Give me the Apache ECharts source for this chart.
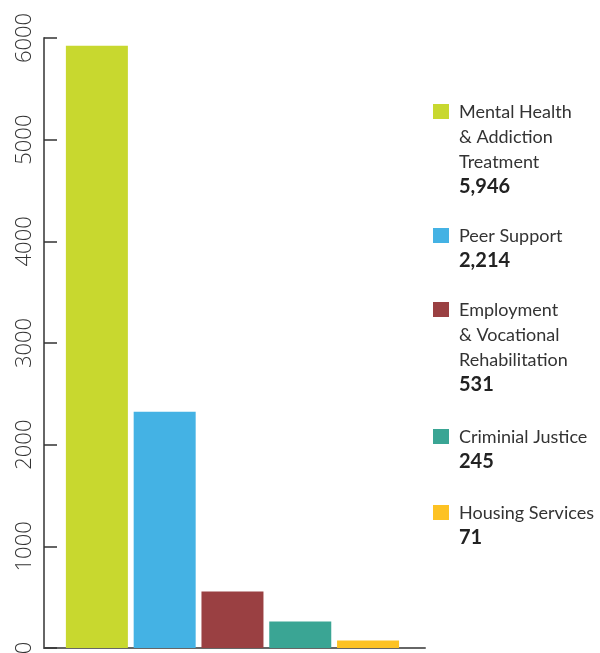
<!DOCTYPE html>
<html>
<head>
<meta charset="utf-8">
<script src="https://cdn.jsdelivr.net/npm/echarts@6/dist/echarts.min.js"></script>
<style>
  html, body { margin: 0; padding: 0; background: #fff; }
  #chart { width: 600px; height: 653px; }
</style>
</head>
<body>
<div id="chart"></div>
<script>
// programmes, in bar order
var categories = [
  "Mental Health\n& Addiction\nTreatment",
  "Peer Support",
  "Employment\n& Vocational\nRehabilitation",
  "Criminial Justice",
  "Housing Services"
];
// bar heights as drawn
var barValues = [5925, 2325, 556, 261, 74];
// totals printed in the legend
var totals = ["5,946", "2,214", "531", "245", "71"];
var colors = ["#c8d82f", "#44b2e4", "#9a4042", "#3aa594", "#fdc223"];
var yTicks = [0, 1000, 2000, 3000, 4000, 5000, 6000];

var myChart = echarts.init(document.getElementById("chart"));

// legend drawn by hand so the swatch sits at the first line
var legendTops = [112, 236, 310, 437, 513];
var lineH = 25;
var legendItems = [];
categories.forEach(function (name, i) {
  var lines = name.split("\n");
  var y0 = legendTops[i];
  legendItems.push({
    type: "rect",
    shape: { x: 433, y: y0 - 8, width: 16, height: 15 },
    style: { fill: colors[i] }
  });
  lines.forEach(function (t, j) {
    legendItems.push({
      type: "text",
      x: 459,
      y: y0 + j * lineH,
      style: {
        text: t,
        font: "18px Lato",
        fill: "#333",
        verticalAlign: "middle"
      }
    });
  });
  legendItems.push({
    type: "text",
    x: 459,
    y: y0 + lines.length * lineH,
    style: {
      text: totals[i],
      font: "bold 20px Lato",
      fill: "#222",
      verticalAlign: "middle"
    }
  });
});

var option = {
  animation: false,
  grid: { left: 44, right: 175, top: 38, bottom: 5, outerBoundsMode: "none" },
  xAxis: {
    type: "value",
    min: -0.78,
    max: 4.84,
    axisLine: { show: true, onZero: false, lineStyle: { color: "#666", width: 2 } },
    axisTick: { show: false },
    axisLabel: { show: false },
    splitLine: { show: false }
  },
  yAxis: {
    type: "value",
    min: yTicks[0],
    max: yTicks[yTicks.length - 1],
    interval: 1000,
    axisLine: { show: true, onZero: false, lineStyle: { color: "#666", width: 2 } },
    axisTick: { show: true, inside: true, length: 13, lineStyle: { color: "#333", width: 1.5 } },
    axisLabel: {
      rotate: 90,
      margin: 8,
      fontFamily: "Open Sans",
      fontWeight: 300,
      fontSize: 22,
      color: "#333",
      formatter: function (v) { return String(v); }
    },
    splitLine: { show: false }
  },
  series: [
    {
      type: "bar",
      barWidth: 62,
      data: barValues.map(function (v, i) {
        return { value: [i, v], itemStyle: { color: colors[i] } };
      })
    }
  ],
  graphic: legendItems
};

myChart.setOption(option);
</script>
</body>
</html>
